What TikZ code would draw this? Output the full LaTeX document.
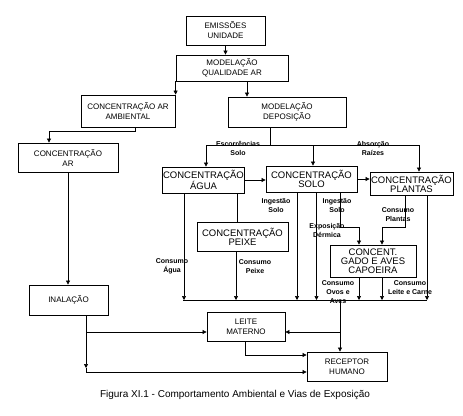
\documentclass[tikz,border=0pt]{standalone}
\usepackage{fontspec}
\setmainfont{Liberation Sans}
\usepackage{tikz}
\usetikzlibrary{arrows.meta, positioning}

\begin{document}
\begin{tikzpicture}[
                    x=1pt, y=-1pt,
                    box/.style={
                        draw,
                        line width=0.8pt,
                        inner sep=1pt,
                        align=center,
                        font=\fontsize{8}{10}\selectfont
                    },
                    bigbox/.style={
                        box,
                        font=\fontsize{9.5}{9}\selectfont
                    },
                    lbl/.style={
                        inner sep=0pt,
                        align=center,
                        font=\fontsize{7}{9}\selectfont\bfseries
                    },
                    arrow/.style={
                        -{Triangle[length=4pt,width=4pt]},
                        line width=0.7pt
                    },
                    link/.style={
                        line width=0.7pt
                    }
                ]

                \useasboundingbox (0,0) rectangle (463,415);

                % Topo
                \node[box, minimum width=79pt, minimum height=29pt] (emis) at (225.5,30.5) {EMISSÕES\\UNIDADE};
                \node[box, minimum width=112pt, minimum height=26pt] (modqa) at (232,68) {MODELAÇÃO\\QUALIDADE AR};
                \node[box, minimum width=94pt, minimum height=32pt] (aramb) at (128,111) {CONCENTRAÇÃO AR\\AMBIENTAL};
                \node[box, minimum width=118pt, minimum height=30pt] (moddep) at (287,112) {MODELAÇÃO\\DEPOSIÇÃO};
                \node[box, minimum width=100pt, minimum height=29pt] (conar) at (68,157.5) {CONCENTRAÇÃO\\AR};

                % Meios
                \node[bigbox, minimum width=81pt, minimum height=26pt] (agua) at (203.5,180) {CONCENTRAÇÃO\\ÁGUA};
                \node[bigbox, minimum width=91pt, minimum height=26pt] (solo) at (311.5,179) {CONCENTRAÇÃO\\SOLO};
                \node[bigbox, minimum width=83pt, minimum height=23pt] (plantas) at (411.5,183.5) {CONCENTRAÇÃO\\PLANTAS};
                \node[bigbox, minimum width=91pt, minimum height=29pt] (peixe) at (242.5,236.5) {CONCENTRAÇÃO\\PEIXE};
                \node[bigbox, minimum width=86pt, minimum height=32pt] (gado) at (373,261) {CONCENT.\\GADO E AVES\\CAPOEIRA};

                % Fundo
                \node[box, minimum width=79pt, minimum height=30pt] (inal) at (68.5,300) {INALAÇÃO};
                \node[box, minimum width=78pt, minimum height=29pt] (leite) at (246,326.5) {LEITE\\MATERNO};
                \node[box, minimum width=80pt, minimum height=29pt] (recep) at (347,366.5) {RECEPTOR\\HUMANO};

                % Pontos de ligação
                \coordinate (ramo) at (49,131);
                \coordinate (dist) at (270,145);
                \coordinate (gadoA) at (359,227);
                \coordinate (gadoB) at (382,227);
                \coordinate (colL) at (183,300);
                \coordinate (colR) at (427,300);
                \coordinate (colM) at (340,300);
                \coordinate (lm) at (340,332);
                \coordinate (inalA) at (86,332);
                \coordinate (inalB) at (86,368);

                % Ar
                \draw[arrow] (emis.south) -- (emis.south |- modqa.north);
                \draw[arrow] (modqa.south west) -- (modqa.south west |- aramb.north);
                \draw[arrow] ([xshift=15pt]modqa.south) -- ([xshift=15pt]modqa.south |- moddep.north);
                \draw[arrow] ([xshift=7pt]aramb.south) |- (ramo) -- (ramo |- conar.north);
                \draw[arrow] (conar.south) -- (conar.south |- inal.north);

                % Deposição
                \draw[link] (moddep.south -| dist) -- (dist);
                \draw[arrow] (dist) -| ([xshift=2.5pt]agua.north);
                \draw[arrow] (dist) -| ([xshift=1.5pt]solo.north);
                \draw[arrow] (dist) -| ([xshift=7.5pt]plantas.north);
                \node[lbl] (escorr) at (238,148) {Escorrências\\Solo};
                \node[lbl] (absorc) at (373,148.5) {Absorção\\Raízes};

                % Entre meios
                \draw[arrow] (agua.east) -- (agua.east -| solo.west);
                \draw[arrow] (solo.east) -- (solo.east -| plantas.west);
                \draw[link] ([xshift=33.5pt]agua.south) -- ([xshift=33.5pt]agua.south |- peixe.north);
                \draw[arrow] ([xshift=28.5pt]solo.south) |- (gadoA) -- (gadoA |- gado.north);
                \draw[arrow] ([xshift=-6.5pt]plantas.south) |- (gadoB) -- (gadoB |- gado.north);

                % Colector
                \draw[link] (colL) -- (colR);
                \draw[arrow] ([xshift=-19.5pt]agua.south) -- ([xshift=-19.5pt]agua.south |- colL);
                \draw[arrow] ([xshift=-6.5pt]peixe.south) -- ([xshift=-6.5pt]peixe.south |- colL);
                \draw[arrow] ([xshift=-14.5pt]solo.south) -- ([xshift=-14.5pt]solo.south |- colL);
                \draw[arrow] ([xshift=5pt]solo.south) -- ([xshift=5pt]solo.south |- colL);
                \draw[arrow] ([xshift=-14pt]gado.south) -- ([xshift=-14pt]gado.south |- colL);
                \draw[arrow] ([xshift=9pt]gado.south) -- ([xshift=9pt]gado.south |- colL);
                \draw[arrow] ([xshift=15.5pt]plantas.south) -- ([xshift=15.5pt]plantas.south |- colR);

                \node[lbl] (cagua) at (172,266.5) {Consumo\\Água};
                \node[lbl] (cpeixe) at (255,266.5) {Consumo\\Peixe};
                \node[lbl] (ingA) at (276,206) {Ingestão\\Solo};
                \node[lbl] (ingB) at (337,206) {Ingestão\\Solo};
                \node[lbl] (expd) at (327,230.5) {Exposição\\Dérmica};
                \node[lbl] (cplant) at (398,214.5) {Consumo\\Plantas};
                \node[lbl] (covos) at (338,292) {Consumo\\Ovos e\\Aves};
                \node[lbl] (cleite) at (410,287.5) {Consumo\\Leite e Carne};

                % Receptor
                \draw[arrow] (colM) -- (colM |- recep.north);
                \draw[arrow] (lm) -- (lm -| leite.east);
                \draw[link] ([xshift=17.5pt]inal.south) -- (inalA);
                \draw[arrow] (inalA) -- (inalA -| leite.west);
                \draw[arrow] (inalA) -- (inalB);
                \draw[arrow] (inalB) |- ([yshift=-5.5pt]recep.west);
                \draw[arrow] ([xshift=-1pt]leite.south) |- ([yshift=11.5pt]recep.west);

                % Legenda
                \node[font=\fontsize{10}{12}\selectfont] (legenda) at (235,395) {Figura XI.1 - Comportamento Ambiental e Vias de Exposição};

            \end{tikzpicture}
\end{document}
